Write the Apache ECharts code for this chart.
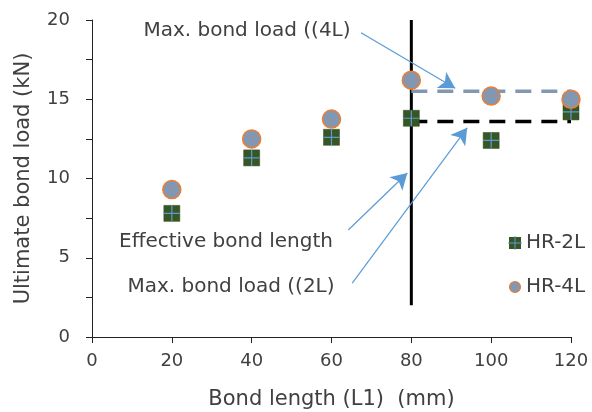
<!DOCTYPE html>
<html>
<head>
<meta charset="utf-8">
<script src="https://cdn.jsdelivr.net/npm/echarts@6/dist/echarts.min.js"></script>
<style>
  html, body { margin: 0; padding: 0; background: #fff; }
  #chart { width: 592px; height: 412px; }
</style>
</head>
<body>
<div id="chart"></div>
<script>
// Bond length (mm) for each specimen group
const bondLength = [20, 40, 60, 80, 100, 120];
// Ultimate bond load (kN)
const hr2L = [7.8, 11.3, 12.6, 13.8, 12.4, 14.2];
const hr4L = [9.3, 12.5, 13.75, 16.2, 15.2, 15.0];
// Reference levels
const effectiveLength = 80;
const effectiveLineRange = [2, 20];
const maxLoad4L = 15.5;
const maxLoad2L = 13.6;
const plateauRange = [80, 120];

const FONT = 'DejaVu Sans';
const TXT = '#404040';

const pts = (xs, ys) => xs.map((x, i) => [x, ys[i]]);

const note = (text, cx, cy) => ({
  type: 'text', x: cx, y: cy,
  style: { text, fontSize: 20, fill: TXT, fontFamily: FONT, align: 'center', verticalAlign: 'middle' }
});

const chart = echarts.init(document.getElementById('chart'));
chart.setOption({
  animation: false,
  backgroundColor: '#fff',
  textStyle: { fontFamily: FONT, color: TXT },
  grid: { left: 92, right: 21, top: 20, bottom: 75, containLabel: false, outerBoundsMode: 'none' },
  xAxis: {
    type: 'value', min: 0, max: 120, interval: 20,
    name: 'Bond length (L1)  (mm)', nameLocation: 'middle', nameGap: 52,
    nameTextStyle: { fontSize: 21, color: TXT, fontFamily: FONT },
    axisLine: { lineStyle: { color: '#222', width: 1 } },
    axisTick: { length: 6, lineStyle: { color: '#222' } },
    axisLabel: { fontSize: 18, color: TXT, margin: 15, fontFamily: FONT },
    splitLine: { show: false }
  },
  yAxis: {
    type: 'value', min: 0, max: 20, interval: 2.5,
    name: 'Ultimate bond load (kN)', nameLocation: 'middle', nameGap: 58,
    nameTextStyle: { fontSize: 21, color: TXT, fontFamily: FONT },
    axisLine: { show: true, lineStyle: { color: '#222', width: 1 } },
    axisTick: { show: true, length: 6, lineStyle: { color: '#222' } },
    axisLabel: {
      fontSize: 18, color: TXT, margin: 22, fontFamily: FONT,
      formatter: v => (v % 5 === 0 ? String(v) : '')
    },
    splitLine: { show: false }
  },
  series: [
    {
      name: 'effective', type: 'line', silent: true, symbol: 'none',
      data: effectiveLineRange.map(y => [effectiveLength, y]),
      lineStyle: { color: '#000', width: 3 }, z: 1
    },
    {
      name: 'max4L', type: 'line', silent: true, symbol: 'none',
      data: plateauRange.map(x => [x, maxLoad4L]),
      lineStyle: { color: '#8497b0', width: 3.5, type: [16, 10] }, z: 1
    },
    {
      name: 'max2L', type: 'line', silent: true, symbol: 'none',
      data: plateauRange.map(x => [x, maxLoad2L]),
      lineStyle: { color: '#000', width: 3.5, type: [16, 10] }, z: 1
    },
    {
      name: 'HR-2L', type: 'scatter', symbol: 'rect', symbolSize: 16,
      data: pts(bondLength, hr2L),
      itemStyle: { color: '#375623', borderColor: '#2d4a1c', borderWidth: 0.5, opacity: 1 }, z: 3
    },
    {
      name: 'HR-2L cross', type: 'scatter', silent: true,
      symbol: 'path://M5,0L5,10M0,5L10,5', symbolSize: 16,
      data: pts(bondLength, hr2L),
      itemStyle: { color: 'none', borderColor: '#5b9bd5', borderWidth: 1.2, opacity: 1 }, z: 4
    },
    {
      name: 'HR-4L', type: 'scatter', symbol: 'circle', symbolSize: 18,
      data: pts(bondLength, hr4L),
      itemStyle: { color: '#8497b0', borderColor: '#ed7d31', borderWidth: 1.5, opacity: 1 }, z: 5,
      markLine: {
        silent: true, symbol: ['none', 'arrow'], symbolSize: [14, 16],
        lineStyle: { color: '#5b9bd5', width: 1.2, type: 'solid' },
        label: { show: false },
        data: [
          [{ coord: [67.4, 19.2] }, { coord: [91.0, 15.7] }],
          [{ coord: [64.2, 6.75] }, { coord: [79.0, 10.35] }],
          [{ coord: [65.2, 3.4] }, { coord: [94.0, 13.2] }]
        ]
      }
    }
  ],
  graphic: [
    note('Max. bond load ((4L)', 247, 31),
    note('Effective bond length', 226, 242),
    note('Max. bond load ((2L)', 231, 287),
    // legend
    { type: 'rect', shape: { x: 509, y: 237, width: 12, height: 12 }, style: { fill: '#375623' } },
    { type: 'line', shape: { x1: 515, y1: 236, x2: 515, y2: 250 }, style: { stroke: '#5b9bd5', lineWidth: 1 } },
    { type: 'line', shape: { x1: 508, y1: 243, x2: 522, y2: 243 }, style: { stroke: '#5b9bd5', lineWidth: 1 } },
    { type: 'text', x: 526, y: 243, style: { text: 'HR-2L', fontSize: 20, fill: TXT, fontFamily: FONT, verticalAlign: 'middle' } },
    { type: 'circle', shape: { cx: 515, cy: 287, r: 5.5 }, style: { fill: '#8497b0', stroke: '#ed7d31', lineWidth: 1.2 } },
    { type: 'text', x: 526, y: 287, style: { text: 'HR-4L', fontSize: 20, fill: TXT, fontFamily: FONT, verticalAlign: 'middle' } }
  ]
});
</script>
</body>
</html>
